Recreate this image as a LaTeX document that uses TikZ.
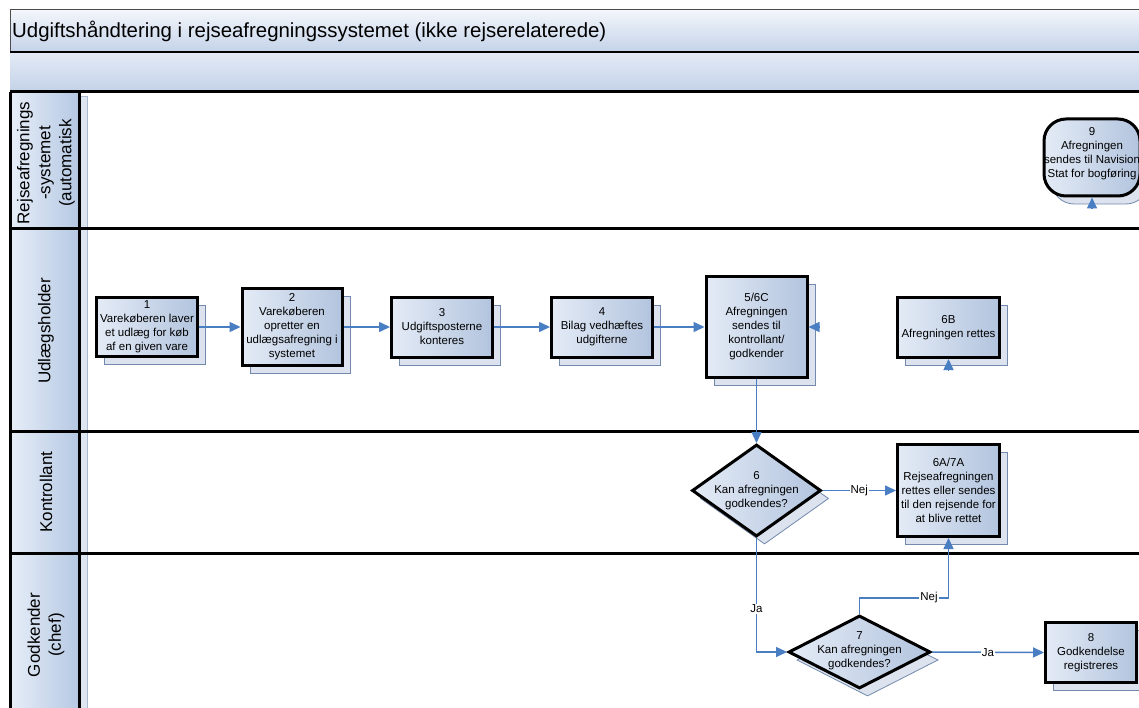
\documentclass[tikz,border=0pt]{standalone}
\usepackage{fontspec}
\setmainfont{Liberation Sans}
\usetikzlibrary{shapes.geometric,arrows.meta,shadows}

\definecolor{boxL}{HTML}{E4EBF6}
\definecolor{boxR}{HTML}{B2C4DE}
\definecolor{flow}{HTML}{4A7EC3}
\definecolor{shade}{HTML}{DCE3EE}
\definecolor{shadeedge}{HTML}{7389AD}
\definecolor{laneL}{HTML}{E7EEF8}
\definecolor{laneR}{HTML}{B5C8E3}
\definecolor{titleT}{HTML}{F3F6FB}
\definecolor{titleB}{HTML}{C4D3E9}
\definecolor{headT}{HTML}{E3EAF5}
\definecolor{headB}{HTML}{C3D2E8}
\definecolor{stripc}{HTML}{DDE5F1}

\tikzset{
  every node/.style={font=\fontsize{11.5}{14}\selectfont},
  boxshadow/.style={general shadow={shadow xshift=8pt, shadow yshift=-8pt,
      fill=shade, draw=shadeedge, line width=0.8pt}},
  proc/.style={rectangle, draw=black, line width=3pt, left color=boxL,
      right color=boxR, align=center, inner sep=1pt, boxshadow},
  decision/.style={diamond, draw=black, line width=3pt, left color=boxL,
      right color=boxR, inner sep=0pt, boxshadow},
  terminal/.style={rectangle, rounded corners=22pt, draw=black, line width=3pt,
      left color=boxL, right color=boxR, align=center, inner sep=0pt, boxshadow},
  dtext/.style={align=center, inner sep=0pt},
  flowline/.style={draw=flow, line width=1.5pt, -{Triangle[length=11pt,width=10pt]}},
  flowlabel/.style={fill=white, inner sep=1pt},
  lanetext/.style={rotate=90, align=center, font=\fontsize{17}{21}\selectfont},
  laneline/.style={draw=black, line width=3pt},
}

\begin{document}
\begin{tikzpicture}[x=1pt, y=-1pt]
  % canvas
  \fill[white] (0,0) rectangle (1139,708);
  \useasboundingbox (0,0) rectangle (1139,708);
  \clip (0,0) rectangle (1139,708);

  % title bar and header bar
  \shade[top color=titleT, bottom color=titleB] (10,10) rectangle (1150,52);
  \draw[black!70, line width=1pt] (10,52) -- (10,10) -- (1150,10);
  \shade[top color=headT, bottom color=headB] (10,52) rectangle (1150,92);
  \node[anchor=west, inner sep=0pt, font=\fontsize{20.4}{24}\selectfont] (title) at (12,31)
    {Udgiftshåndtering i rejseafregningssystemet (ikke rejserelaterede)};

  % lane header column
  \shade[left color=laneL, right color=laneR] (10,92) rectangle (79,708);
  \fill[stripc] (80,96) rectangle (87,708);
  \draw[shadeedge!60, line width=0.6pt] (80,96) rectangle (87,708);

  % lane borders
  \draw[laneline, line width=2pt] (10,52) -- (1150,52);
  \draw[laneline] (10,92) -- (1150,92);
  \draw[laneline] (10,229) -- (1150,229);
  \draw[laneline] (10,431) -- (1150,431);
  \draw[laneline] (10,553) -- (1150,553);
  \draw[laneline] (10,92) -- (10,708);
  \draw[laneline] (79,92) -- (79,708);

  % lane names
  \node[lanetext] (lane1) at (46,163) {Rejseafregnings\\-systemet\\(automatisk};
  \node[lanetext] (lane2) at (46,331) {Udlægsholder};
  \node[lanetext] (lane3) at (46,492) {Kontrollant};
  \node[lanetext] (lane4) at (46,635) {Godkender\\(chef)};

  % process steps
  \node[proc, minimum width=101pt, minimum height=59pt] (n1) at (147,327)
    {1\\Varekøberen laver\\et udlæg for køb\\af en given vare};
  \node[proc, minimum width=100pt, minimum height=77pt] (n2) at (292,327)
    {2\\Varekøberen\\opretter en\\udlægsafregning i\\systemet};
  \node[proc, minimum width=101pt, minimum height=60pt] (n3) at (442,327)
    {3\\Udgiftsposterne\\konteres};
  \node[proc, minimum width=101pt, minimum height=60pt] (n4) at (602,327)
    {4\\Bilag vedhæftes\\udgifterne};
  \node[proc, minimum width=101pt, minimum height=101pt] (n5) at (756.5,327)
    {5/6C\\Afregningen\\sendes til\\kontrollant/\\godkender};
  \node[proc, minimum width=102pt, minimum height=60pt] (n6B) at (948.5,327.5)
    {6B\\Afregningen rettes};
  \node[proc, minimum width=102pt, minimum height=92pt] (n6A) at (948.5,490.5)
    {6A/7A\\Rejseafregningen\\rettes eller sendes\\til den rejsende for\\at blive rettet};
  \node[proc, minimum width=91pt, minimum height=60pt] (n8) at (1091,652.5)
    {8\\Godkendelse\\registreres};
  \node[terminal, minimum width=96pt, minimum height=77pt] (n9) at (1092,157.5) {};
  \node[dtext] (n9t) at (1092,154) {9\\Afregningen\\sendes til Navision\\Stat for bogføring};

  % decisions
  \node[decision, minimum width=129pt, minimum height=92pt] (d6) at (756.5,490.5) {};
  \node[dtext] (d6t) at (756.5,491) {6\\Kan afregningen\\godkendes?};
  \node[decision, minimum width=142pt, minimum height=73pt] (d7) at (859.5,652) {};
  \node[dtext] (d7t) at (859.5,651) {7\\Kan afregningen\\godkendes?};

  % flow
  \draw[flowline] (n1) -- (n2);
  \draw[flowline] (n2) -- (n3);
  \draw[flowline] (n3) -- (n4);
  \draw[flowline] (n4) -- (n5);
  \draw[flowline] (n5.south) -- (d6.north);
  \draw[flowline] (d6.east) -- node[flowlabel] {Nej} (n6A.west);
  \draw[flowline] (d6.south) |- node[flowlabel, pos=0.31] {Ja} (d7.west);
  \draw[flowline] (d7.north) -- ++(0,-16) -| node[flowlabel, pos=0.39] {Nej} (n6A.south);
  \draw[flowline] (d7.east) -- node[flowlabel] {Ja} (n8.west);

  % incoming arrow ends
  \coordinate (in5) at ([xshift=11pt]n5.east);
  \coordinate (in6B) at ([yshift=-11pt]n6B.south);
  \coordinate (in9) at ([yshift=-11pt]n9.south);
  \draw[flowline] (in5) -- (n5.east);
  \draw[flowline] (in6B) -- (n6B.south);
  \draw[flowline] (in9) -- (n9.south);
\end{tikzpicture}
\end{document}
